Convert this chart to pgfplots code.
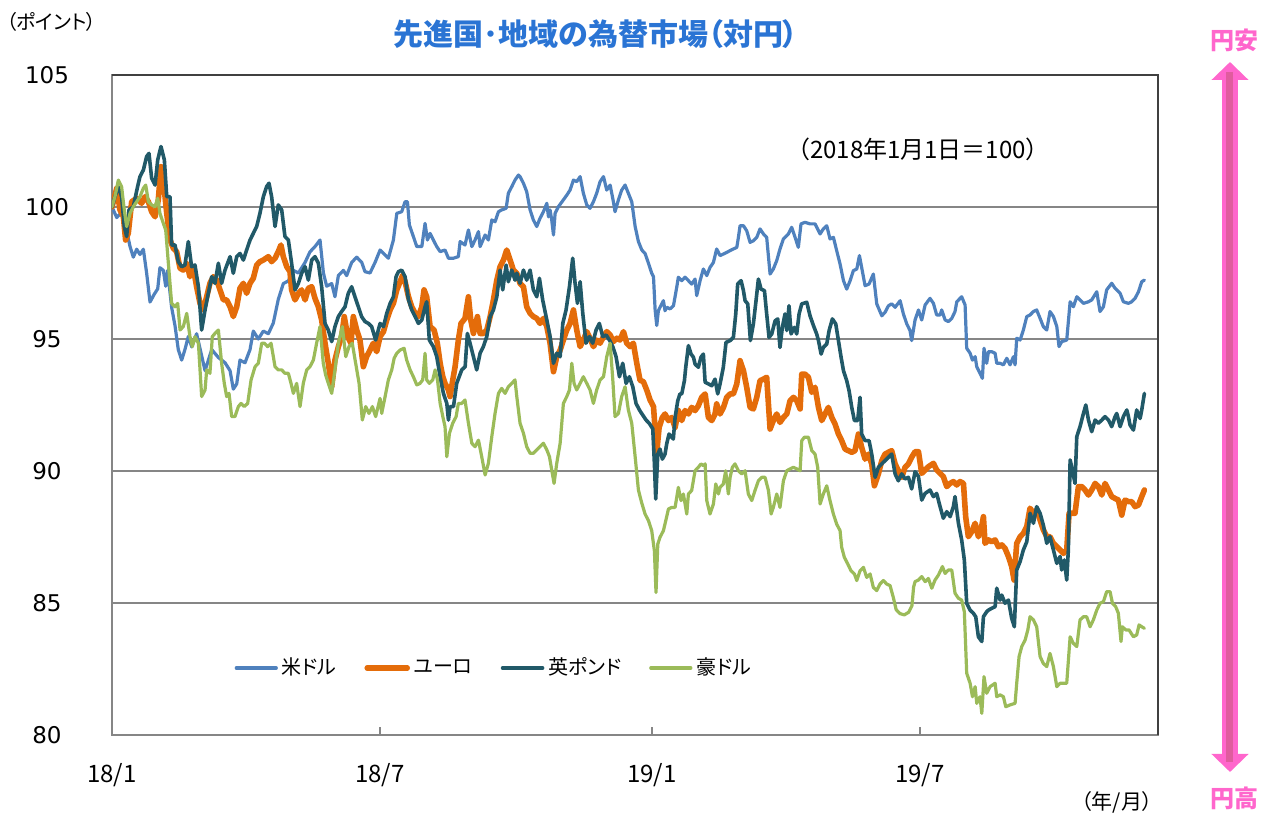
\documentclass[border=0pt]{standalone}
\usepackage{fontspec}
\setmainfont{Noto Sans CJK JP}[RawFeature={+palt}]
\newfontfamily\dejavu{DejaVu Sans}
\usepackage{pgfplots}
\pgfplotsset{compat=1.18}
\usetikzlibrary{arrows.meta}
\definecolor{usd}{RGB}{79,129,189}
\definecolor{eur}{RGB}{228,108,10}
\definecolor{gbp}{RGB}{33,89,104}
\definecolor{aud}{RGB}{155,187,89}
\definecolor{gridc}{RGB}{134,134,134}
\definecolor{framec}{RGB}{64,64,64}
\definecolor{titleblue}{RGB}{42,116,212}
\definecolor{pinkc}{RGB}{255,102,204}
\definecolor{pinkd}{RGB}{224,92,158}
\begin{document}
\begin{tikzpicture}
\begin{scope}[x=0.5pt,y=-0.5pt,shift={(-56pt,367.5pt)}]
\useasboundingbox (0,0) rectangle (1269,813);
\end{scope}
\begin{axis}[
  at={(0pt,0pt)}, anchor=south west, name=ax,
  scale only axis, width=523pt, height=330pt,
  xmin=0, xmax=707, ymin=80, ymax=105,
  xtick={0,181,365,546}, xticklabels={18/1,18/7,19/1,19/7},
  ytick={80,85,90,95,100,105},
  ymajorgrids, grid style={draw=gridc, line width=1pt},
  axis line style={draw=gridc, line width=1pt},
  tick pos=left, xtick align=inside, major tick length=4pt,
  xtick style={draw=gridc, line width=1pt},
  ytick style={draw=none},
  xticklabel style={anchor=center, yshift=-20pt, font=\fontsize{12}{14}\selectfont, text=black},
  yticklabel style={anchor=center, xshift=-32.5pt, font=\dejavu\fontsize{11.5}{13}\selectfont, text=black},
  /pgf/number format/assume math mode=true,
  legend columns=4,
  legend style={at={(0.366,0.1015)}, anchor=center, draw=none, fill=none,
    font=\fontsize{10}{12}\selectfont,
    /tikz/every even column/.append style={column sep=12pt}},
  legend image code/.code={\draw[#1] (0pt,0pt) -- (20pt,0pt);},
  every axis plot/.append style={line join=round, line cap=round},
]
\addplot[usd, line width=1.6pt] coordinates {
(0,100.0) (3.2,99.6) (6.5,99.8) (9.9,99.1) (12.2,98.5) (14.4,98.1) (16.7,98.4) (18.9,98.2) (21.2,98.4) (23.4,97.5) (25.7,96.4) (28.6,96.7) (30.9,96.9) (32.4,97.7) (34.7,97.6) (36.3,97.0) (37.6,97.6) (40.3,96.2) (42.6,95.5) (44.8,94.6) (47.1,94.2) (49.3,94.6) (51.6,95.1) (53.9,94.7) (57.2,95.2) (62.9,93.8) (67.4,94.6) (71.9,94.3) (76.4,94.1) (79.8,93.8) (82.0,93.1) (84.3,93.3) (86.5,94.2) (89.9,94.1) (93.3,94.6) (95.5,95.3) (98.9,95.0) (102.3,95.3) (105.7,95.2) (109.0,95.6) (112.4,96.5) (115.8,97.1) (119.2,97.2) (122.6,97.6) (126.0,97.5) (130.5,97.9) (133.8,98.3) (137.2,98.5) (140.6,98.75) (142.9,97.5) (145.1,97.0) (148.5,97.1) (150.7,96.6) (153.0,97.4) (156.4,97.6) (158.6,97.4) (162.0,97.9) (165.4,98.1) (168.8,97.9) (171.0,97.55) (174.4,97.5) (177.8,97.9) (181.2,98.37) (183.5,98.24) (186.8,98.06) (190.2,98.75) (192.5,99.76) (195.8,99.82) (198.1,100.2) (199.7,100.2) (201.0,99.32) (203.7,98.88) (206.0,98.5) (209.4,98.5) (211.6,99.38) (213.2,98.75) (215.0,99.0) (217.2,98.75) (219.5,98.5) (221.8,98.31) (225.1,98.37) (227.4,98.06) (230.8,98.06) (234.1,98.12) (235.3,98.69) (238.6,98.56) (240.9,99.13) (243.2,98.5) (245.4,98.75) (247.7,99.07) (248.8,98.5) (252.2,98.94) (254.4,98.75) (256.7,99.51) (258.9,99.44) (261.2,99.82) (263.4,99.89) (266.4,99.95) (267.9,100.52) (270.2,100.77) (272.4,101.02) (274.7,101.21) (275.8,101.15) (278.1,100.9) (280.3,100.58) (282.6,99.89) (284.8,99.51) (287.1,99.26) (289.3,99.57) (291.6,99.82) (293.9,100.14) (295.0,99.63) (296.1,99.89) (297.2,99.51) (298.4,98.94) (299.5,99.76) (301.7,100.01) (305.1,100.27) (307.4,100.45) (309.6,100.64) (311.9,101.02) (314.1,100.96) (316.4,101.15) (318.6,100.52) (320.9,100.08) (323.1,99.95) (325.4,100.2) (327.6,100.52) (329.9,100.96) (332.2,101.15) (334.4,100.64) (336.7,100.83) (338.9,100.2) (340.0,99.82) (342.3,100.27) (344.5,100.64) (346.8,100.83) (349.0,100.52) (351.3,100.2) (353.6,99.26) (355.8,98.69) (358.1,98.37) (360.3,98.24) (362.6,97.87) (364.8,97.49) (366.0,97.36) (367.1,96.1) (368.2,95.51) (369.3,96.07) (370.4,96.20) (372.7,96.45) (373.8,96.07) (375.0,96.20) (377.2,96.14) (379.5,96.26) (381.7,96.96) (382.8,97.34) (385.1,97.21) (387.3,97.34) (389.6,97.21) (391.8,97.08) (394.1,97.27) (395.2,96.64) (397.5,97.21) (399.7,97.65) (402.0,97.40) (404.2,97.71) (406.5,97.90) (408.7,98.41) (411.0,98.16) (413.3,98.22) (415.5,98.28) (417.8,98.35) (420.0,98.41) (422.3,98.47) (423.4,98.85) (424.5,99.29) (426.8,99.29) (429.0,99.10) (431.3,98.66) (433.5,98.72) (435.8,98.85) (438.0,99.17) (440.3,98.98) (442.5,98.85) (444.8,97.46) (447.0,97.65) (449.3,97.97) (451.5,98.41) (453.8,98.79) (457.2,98.98) (459.4,99.23) (461.7,98.85) (463.9,98.47) (465.7,99.36) (468.4,99.42) (471.8,99.36) (475.2,99.36) (478.6,98.98) (480.8,99.17) (483.1,99.29) (485.3,98.79) (487.6,98.85) (489.8,98.35) (492.1,97.84) (494.4,97.21) (496.6,96.89) (498.9,97.21) (501.1,97.59) (503.4,97.65) (505.2,98.16) (506.7,97.71) (509.0,97.02) (511.7,97.08) (514.6,97.46) (516.9,96.33) (520.3,95.88) (522.5,96.01) (524.8,96.26) (527.0,96.33) (529.3,96.20) (532.7,96.45) (534.9,95.95) (537.2,95.57) (539.4,95.32) (540.5,94.94) (542.8,95.72) (545.1,96.10) (547.3,95.72) (549.6,96.29) (552.9,96.54) (555.2,96.35) (557.4,95.91) (559.7,95.91) (560.8,96.10) (563.1,95.72) (565.3,95.66) (567.6,95.78) (569.8,96.04) (571.0,96.41) (574.3,96.60) (576.6,96.29) (577.7,94.65) (580.0,94.46) (581.6,94.20) (583.4,94.33) (584.5,93.95) (586.7,93.70) (588.3,93.51) (589.4,94.65) (591.2,94.08) (592.4,94.52) (594.6,94.52) (596.9,94.46) (598.0,94.08) (600.3,94.08) (602.5,94.02) (604.8,94.27) (607.0,94.02) (609.3,94.33) (610.4,94.02) (611.5,95.03) (613.8,94.96) (616.0,95.34) (618.3,95.85) (620.5,95.91) (622.8,96.04) (625.0,96.10) (627.3,95.78) (629.5,95.47) (631.8,95.34) (634.0,96.04) (636.3,95.85) (638.6,95.47) (640.1,94.71) (641.9,94.90) (645.3,94.96) (647.6,96.41) (649.8,96.22) (652.1,96.60) (654.3,96.48) (656.6,96.35) (660.0,96.41) (662.2,96.48) (665.6,96.79) (667.8,96.04) (670.1,96.22) (672.3,96.86) (675.7,97.11) (678.0,96.92) (681.4,96.73) (683.6,96.41) (687.0,96.35) (689.2,96.41) (691.5,96.54) (693.8,96.79) (696.0,97.17) (697.8,97.23)
};
\addlegendentry{米ドル}
\addplot[eur, line width=2.8pt] coordinates {
(0,100) (3.2,100.71) (5.4,99.89) (7.7,99.63) (9.2,98.75) (11.0,99.0) (13.3,100.2) (16.7,100.33) (20.0,100.14) (22.3,100.39) (24.6,100.2) (26.8,99.82) (29.1,99.63) (31.3,100.27) (33.1,101.53) (34.7,101.02) (37.0,99.76) (39.2,98.75) (41.5,98.43) (43.7,98.31) (46.0,97.68) (48.2,97.61) (50.5,97.87) (52.7,97.36) (55.0,97.68) (57.2,96.98) (59.5,96.35) (61.7,96.1) (64.0,96.6) (66.2,97.11) (68.5,97.36) (70.8,97.23) (73.0,96.86) (75.3,96.48) (77.5,96.48) (79.8,96.22) (82.0,95.85) (84.3,96.22) (86.5,96.92) (88.8,97.11) (91.0,96.73) (93.3,97.11) (95.5,97.3) (97.8,97.8) (100.0,97.93) (102.3,97.99) (105.7,98.12) (107.9,97.93) (110.2,98.06) (112.4,98.31) (114.2,98.56) (115.8,98.12) (118.1,97.74) (120.3,97.55) (121.4,96.86) (123.7,96.48) (126.0,96.73) (128.2,96.86) (130.5,96.48) (132.7,96.92) (135.0,96.98) (137.2,96.54) (139.5,96.22) (141.7,95.72) (144.0,94.84) (146.2,94.08) (148.5,93.19) (150.7,94.2) (153.0,94.71) (155.2,95.09) (157.0,95.85) (159.3,95.09) (161.5,94.84) (163.1,95.85) (165.4,95.34) (167.6,94.96) (169.9,93.95) (172.1,94.33) (174.4,94.58) (176.6,94.84) (178.9,94.52) (181.2,95.09) (183.5,95.28) (185.7,95.72) (188.0,96.1) (190.2,96.35) (192.5,96.86) (194.7,97.17) (196.5,97.42) (198.1,97.17) (200.4,96.6) (202.6,96.22) (204.9,95.97) (207.1,95.85) (209.4,96.22) (210.9,96.86) (212.7,96.6) (215.0,95.47) (217.7,95.34) (219.9,94.84) (221.8,94.08) (223.6,93.57) (225.1,93.32) (227.4,93.07) (228.5,92.82) (230.3,93.44) (231.9,93.95) (234.1,94.96) (235.9,95.59) (238.6,95.78) (240.9,96.6) (242.5,95.72) (244.3,95.21) (247.0,95.85) (248.8,95.21) (251.0,95.21) (253.3,95.34) (255.6,95.85) (257.8,96.48) (260.1,97.23) (262.3,97.74) (264.6,97.99) (266.8,98.37) (269.1,97.99) (271.3,97.61) (273.6,97.49) (275.8,97.1) (278.1,96.98) (280.3,96.22) (282.6,95.97) (284.8,95.85) (287.1,95.78) (289.3,95.59) (291.6,95.78) (293.9,95.47) (296.1,94.84) (298.4,93.76) (300.6,94.33) (302.9,94.58) (305.1,94.96) (307.4,95.34) (309.6,95.59) (311.9,96.1) (314.1,95.34) (316.4,94.71) (318.6,94.96) (320.9,95.28) (323.1,95.03) (325.4,94.71) (327.6,94.96) (329.9,94.84) (332.2,95.09) (334.4,95.28) (336.7,95.15) (338.9,94.9) (341.2,95.03) (343.4,94.96) (345.7,95.28) (347.9,94.84) (350.2,94.71) (352.4,94.84) (354.7,94.08) (356.9,93.44) (359.2,93.38) (361.4,93.07) (363.7,92.69) (366.0,92.44) (368.2,90.7) (369.8,91.65) (372.0,92.03) (373.8,92.16) (376.1,91.91) (378.3,92.03) (380.6,91.65) (382.8,92.29) (385.1,91.91) (387.3,92.29) (389.6,92.16) (391.8,92.41) (394.1,92.29) (396.3,92.47) (398.6,92.79) (400.9,92.92) (403.1,92.03) (405.4,91.91) (407.6,92.16) (408.7,92.54) (411.0,92.16) (413.3,92.41) (415.5,92.79) (417.8,92.92) (420.0,92.92) (422.3,93.3) (424.5,94.18) (426.8,93.8) (429.0,93.17) (431.3,92.41) (433.5,92.35) (435.8,92.79) (438.0,93.42) (440.3,93.48) (442.5,93.55) (444.8,91.59) (447.0,91.91) (449.3,92.16) (451.5,91.84) (453.8,92.03) (456.1,92.16) (458.3,92.66) (460.6,92.79) (462.8,92.66) (465.1,92.35) (466.2,93.67) (468.4,93.67) (470.7,93.55) (473.0,92.98) (475.2,93.17) (477.5,92.41) (479.7,91.91) (482.0,92.16) (484.2,92.41) (486.5,92.03) (488.7,91.78) (491.0,91.4) (493.2,91.15) (495.5,90.83) (497.7,90.77) (500.0,90.71) (502.2,90.77) (504.5,91.4) (506.7,90.9) (509.0,90.45) (511.3,90.64) (513.5,90.27) (515.3,89.44) (518.0,89.89) (520.3,90.39) (522.5,90.64) (524.8,90.71) (527.0,90.77) (529.3,90.27) (531.5,90.01) (533.8,89.76) (536.0,90.14) (538.3,90.27) (540.5,90.52) (542.8,90.73) (545.1,90.73) (547.3,89.91) (549.6,90.04) (551.8,90.16) (555.2,90.29) (557.4,90.04) (559.7,89.91) (561.9,89.79) (564.2,89.41) (566.5,89.53) (568.7,89.6) (571.0,89.47) (573.2,89.6) (575.5,89.53) (577.0,88.27) (578.8,87.51) (581.1,87.7) (583.4,88.02) (585.6,87.51) (587.4,87.77) (589.0,88.27) (590.1,87.26) (592.4,87.39) (594.6,87.32) (596.9,87.39) (599.1,87.13) (601.4,87.2) (603.6,87.07) (605.9,86.76) (608.1,86.38) (609.7,85.87) (611.5,87.26) (613.8,87.51) (616.0,87.64) (618.3,87.89) (620.5,88.59) (622.8,88.4) (625.0,88.52) (627.3,88.14) (629.5,87.77) (631.8,87.51) (634.0,87.51) (636.3,87.26) (638.6,87.13) (640.8,87.01) (643.1,86.88) (645.3,87.01) (646.9,88.4) (648.7,88.4) (650.9,88.4) (653.2,89.41) (655.5,89.41) (657.7,89.28) (660.0,89.09) (662.2,89.28) (664.5,89.53) (666.7,89.41) (669.0,89.09) (671.2,89.53) (673.5,89.28) (675.7,89.03) (678.0,88.96) (680.2,88.9) (682.5,88.33) (684.7,88.9) (687.0,88.84) (689.2,88.84) (691.5,88.65) (693.8,88.71) (696.0,89.03) (697.8,89.28)
};
\addlegendentry{ユーロ}
\addplot[gbp, line width=1.8pt] coordinates {
(0,100) (2.0,100.39) (4.3,100.77) (6.5,100.39) (8.3,99.26) (9.9,98.88) (11.5,99.89) (14.4,100.01) (17.3,100.77) (18.9,101.15) (21.2,101.4) (23.4,101.91) (25.0,102.03) (26.8,101.09) (29.1,100.83) (30.9,101.78) (33.1,102.29) (35.4,101.78) (37.0,100.39) (39.2,100.39) (40.3,98.56) (42.6,98.56) (44.8,97.93) (47.1,97.74) (49.3,97.8) (51.6,98.69) (53.8,97.74) (56.1,97.8) (58.4,96.98) (60.6,95.34) (62.9,96.1) (65.1,96.73) (67.4,97.36) (69.6,97.11) (71.9,97.87) (74.1,97.11) (76.4,97.61) (79.8,98.12) (82.0,97.49) (84.3,98.12) (86.5,98.24) (88.8,97.99) (91.0,98.37) (93.3,98.75) (95.5,99.0) (97.8,99.26) (100.0,99.76) (102.3,100.39) (104.5,100.77) (106.1,100.9) (107.9,100.39) (110.2,99.26) (112.4,100.08) (114.7,99.89) (116.9,98.88) (119.2,98.75) (121.4,97.87) (123.7,96.86) (126.0,97.11) (128.2,97.49) (130.5,97.74) (132.7,97.23) (135.0,97.99) (137.2,98.12) (139.5,97.87) (141.7,96.98) (144.0,95.59) (146.2,95.34) (148.5,94.9) (150.7,95.47) (153.0,95.85) (155.2,96.04) (157.5,96.22) (159.7,96.73) (162.0,96.98) (164.2,96.6) (166.5,96.22) (168.7,95.85) (171.0,95.66) (173.3,95.59) (175.5,95.47) (178.2,94.96) (181.2,95.59) (183.5,95.47) (185.7,95.97) (188.0,96.35) (190.2,96.6) (192.0,97.36) (193.6,97.55) (195.8,97.61) (198.1,97.36) (200.4,96.48) (202.6,96.1) (204.9,95.85) (207.1,95.59) (209.4,95.72) (211.6,96.22) (212.7,96.41) (214.5,94.96) (217.2,94.71) (219.5,94.33) (221.8,93.57) (224.0,92.94) (226.3,92.56) (227.4,91.93) (228.5,92.44) (230.8,92.44) (233.0,93.32) (236.4,93.83) (238.7,93.95) (240.2,95.21) (242.0,94.84) (244.3,94.33) (246.5,93.83) (248.8,94.46) (251.0,94.71) (253.3,95.09) (255.6,95.85) (257.8,96.1) (260.1,96.6) (262.3,97.61) (264.1,96.86) (266.4,97.8) (267.9,97.17) (270.2,97.61) (272.4,97.23) (273.6,97.49) (275.8,97.11) (278.1,97.61) (280.3,97.23) (282.6,97.61) (284.8,96.86) (287.1,96.6) (288.9,97.3) (291.1,96.48) (293.9,95.72) (296.1,95.09) (298.4,94.08) (300.6,94.46) (302.9,94.33) (304.7,95.59) (306.9,96.1) (309.2,96.98) (311.4,98.06) (313.0,97.11) (314.6,96.35) (316.4,97.17) (318.2,95.97) (320.4,94.84) (322.7,95.09) (324.9,94.84) (327.2,95.34) (329.4,95.59) (331.7,95.09) (334.0,95.15) (336.2,94.96) (338.5,94.71) (340.7,94.33) (343.0,93.57) (345.2,94.08) (347.5,93.32) (349.7,93.57) (352.0,93.19) (354.2,92.56) (356.5,92.31) (358.7,92.12) (361.0,91.93) (363.2,91.8) (365.5,91.6) (366.6,90.3) (367.5,88.94) (368.9,90.64) (370.4,90.83) (372.0,90.45) (373.8,90.64) (374.9,91.02) (376.5,91.4) (378.3,91.28) (379.4,91.21) (380.6,92.03) (382.4,92.66) (383.9,92.92) (385.1,92.92) (386.9,93.42) (387.8,93.93) (389.6,94.75) (391.4,94.43) (393.0,94.31) (394.1,94.05) (396.3,93.93) (398.1,94.31) (399.7,94.43) (400.9,93.36) (403.1,93.3) (405.4,93.23) (407.6,93.48) (409.4,92.92) (411.0,93.3) (413.2,93.93) (415.0,94.87) (417.8,94.94) (420.0,95.06) (421.6,95.95) (422.9,97.08) (425.2,97.21) (426.8,96.83) (427.9,96.45) (429.7,96.33) (431.5,94.94) (433.5,95.57) (435.3,96.45) (436.9,97.27) (438.7,96.89) (441.0,96.83) (442.5,95.95) (444.1,95.06) (445.9,95.19) (448.2,95.69) (450.0,95.76) (451.5,94.68) (453.1,95.44) (454.9,95.95) (456.1,95.32) (457.6,96.26) (459.0,95.19) (461.2,95.44) (462.8,95.19) (464.4,95.95) (466.2,96.33) (469.6,96.39) (471.8,95.88) (474.1,95.51) (476.3,95.19) (477.5,94.94) (479.3,94.43) (480.8,94.68) (483.1,94.81) (484.7,95.32) (486.9,95.76) (489.2,95.57) (491.0,94.94) (492.8,94.31) (494.4,93.8) (496.6,93.42) (498.2,93.04) (500.0,92.41) (501.8,91.91) (504.0,91.91) (505.6,92.79) (506.7,91.4) (509.0,91.15) (511.7,91.15) (513.5,90.64) (515.8,89.76) (518.0,90.14) (520.3,90.27) (522.5,90.39) (524.8,90.52) (527.0,90.64) (529.3,89.89) (531.5,89.63) (533.8,89.89) (536.0,89.7) (538.3,89.76) (540.5,89.32) (542.8,89.97) (545.1,89.79) (547.3,88.9) (549.6,89.15) (552.9,89.28) (555.2,89.03) (557.4,89.15) (559.7,88.65) (561.9,88.21) (564.2,88.46) (566.5,88.27) (568.7,88.65) (569.8,89.03) (572.1,88.02) (574.3,87.39) (576.1,86.63) (577.7,84.99) (580.0,84.73) (582.2,84.61) (583.8,84.48) (585.6,83.72) (587.9,83.54) (589.0,84.48) (591.2,84.67) (592.4,84.73) (594.6,84.8) (596.9,84.86) (598.0,85.56) (600.3,85.11) (601.4,85.3) (603.6,84.99) (605.9,85.11) (608.1,84.42) (609.9,84.1) (611.5,86.25) (613.8,86.57) (616.0,87.01) (618.3,87.32) (620.5,88.4) (622.8,88.02) (625.0,88.65) (627.3,88.4) (629.5,87.95) (631.8,87.26) (634.0,87.51) (636.3,87.01) (638.6,86.5) (640.8,86.76) (641.9,86.25) (643.7,86.63) (645.3,85.87) (646.4,87.01) (647.6,90.42) (649.1,90.04) (650.9,89.53) (652.1,91.3) (654.3,91.68) (656.6,92.18) (658.2,92.5) (660.0,91.93) (662.2,91.49) (664.5,91.93) (666.7,91.81) (669.0,91.93) (671.2,92.06) (673.5,91.93) (675.7,91.68) (678.0,92.06) (679.1,92.18) (681.4,91.68) (683.6,92.06) (685.9,92.31) (687.0,92.06) (688.1,91.74) (690.4,91.55) (692.6,92.31) (694.9,91.99) (696.0,92.31) (697.8,92.94)
};
\addlegendentry{英ポンド}
\addplot[aud, line width=1.6pt] coordinates {
(0,100) (2.0,100.39) (4.3,101.02) (6.5,100.77) (8.3,99.89) (9.9,99.26) (12.2,99.76) (14.4,100.01) (16.7,100.2) (18.9,100.39) (21.2,100.71) (22.8,100.83) (24.6,100.2) (26.8,100.08) (29.1,100.01) (30.9,100.33) (32.4,99.76) (34.7,99.38) (36.3,99.13) (38.1,97.87) (40.3,96.35) (42.6,96.22) (44.4,96.35) (46.0,95.34) (48.2,95.47) (50.5,95.97) (52.7,95.09) (54.3,94.71) (56.1,95.09) (58.4,94.84) (60.6,92.82) (62.9,93.07) (64.0,93.83) (66.2,93.7) (67.8,95.09) (69.6,95.21) (71.9,95.34) (74.1,94.08) (75.9,93.32) (77.5,92.82) (79.1,92.94) (80.9,92.06) (83.1,92.06) (85.4,92.44) (87.2,92.56) (89.4,92.44) (91.7,92.56) (94.0,93.45) (96.7,93.95) (98.9,94.08) (101.2,94.84) (103.0,94.84) (105.2,94.71) (107.5,94.84) (110.2,93.95) (112.4,93.83) (114.7,93.83) (116.9,93.7) (119.2,93.7) (121.0,93.32) (122.6,92.94) (124.8,93.32) (127.1,92.44) (129.3,93.32) (131.6,93.83) (133.8,93.95) (136.1,94.2) (138.3,94.84) (140.6,95.47) (142.8,94.08) (144.4,93.64) (146.2,93.32) (148.5,92.94) (150.7,93.83) (153.0,94.84) (155.7,95.47) (158.0,94.33) (160.2,94.71) (162.4,94.84) (164.7,94.08) (167.0,93.32) (169.2,91.93) (171.5,92.44) (173.7,92.18) (176.0,92.44) (178.2,92.06) (181.2,92.75) (182.3,92.18) (184.6,92.82) (186.8,93.45) (189.1,93.83) (190.7,94.27) (192.5,94.46) (194.7,94.58) (197.4,94.65) (199.2,94.2) (201.5,93.83) (203.7,93.57) (206.0,93.26) (208.2,93.32) (210.0,93.45) (211.6,94.46) (212.7,93.45) (214.5,93.32) (216.8,93.45) (218.4,93.83) (220.0,93.45) (221.8,92.56) (223.6,92.06) (225.1,91.68) (226.3,90.54) (228.1,91.43) (230.3,91.81) (232.6,92.06) (234.1,92.56) (236.4,92.56) (238.6,92.69) (240.9,91.81) (243.2,91.05) (245.4,90.92) (247.7,91.17) (249.9,90.54) (252.2,89.85) (254.4,90.29) (256.7,91.3) (258.9,92.18) (261.2,92.94) (263.4,93.13) (265.7,92.94) (267.9,93.19) (270.2,93.32) (272.4,93.45) (273.6,92.82) (275.8,91.81) (278.1,91.43) (280.3,90.92) (282.6,90.67) (284.8,90.67) (287.1,90.8) (289.3,90.92) (291.6,91.05) (293.9,90.8) (295.7,90.54) (297.2,90.04) (298.8,89.53) (300.6,90.29) (302.9,91.05) (305.1,92.56) (307.4,92.82) (309.2,93.07) (310.8,94.08) (312.3,93.32) (314.1,93.07) (316.4,93.32) (318.6,93.57) (320.9,93.32) (323.1,93.07) (325.4,92.56) (327.6,93.07) (329.9,93.45) (332.2,93.57) (334.4,94.33) (336.7,94.84) (338.5,93.45) (340.0,92.06) (342.3,92.18) (344.5,92.82) (346.8,93.19) (349.0,92.31) (351.3,91.81) (353.6,90.54) (355.8,89.28) (358.0,88.8) (360.3,88.37) (362.6,88.12) (364.8,87.74) (366.6,86.98) (367.7,85.4) (368.9,87.23) (370.4,87.49) (372.7,87.74) (374.3,88.12) (376.1,88.56) (378.3,88.62) (380.6,88.62) (381.7,89.0) (382.8,89.38) (384.6,88.88) (386.2,89.13) (388.5,88.37) (389.6,89.13) (391.8,89.26) (394.1,90.01) (396.3,90.14) (398.1,90.27) (399.7,90.2) (400.9,90.27) (402.0,88.88) (404.2,88.37) (406.5,88.75) (408.1,89.51) (409.9,89.13) (411.0,89.38) (413.2,89.51) (414.8,90.01) (416.6,89.13) (417.8,89.76) (419.3,90.14) (421.1,90.27) (423.4,90.01) (425.6,89.89) (427.9,90.01) (430.1,89.13) (432.4,88.88) (434.6,89.26) (436.9,89.63) (439.2,89.76) (441.4,89.76) (443.7,89.26) (445.5,88.37) (447.0,88.62) (449.3,89.13) (451.5,88.62) (453.8,89.63) (456.1,90.01) (458.3,90.08) (460.6,90.14) (462.8,90.08) (465.1,90.01) (466.2,91.15) (468.0,91.28) (470.7,91.28) (473.0,90.77) (475.2,90.64) (477.0,90.14) (478.6,88.75) (480.8,89.13) (483.1,89.44) (485.3,88.88) (487.6,88.37) (489.8,87.99) (492.1,87.74) (493.2,87.11) (495.0,86.73) (497.3,86.48) (499.5,86.22) (501.8,86.1) (503.4,85.85) (505.6,86.22) (507.9,86.35) (510.1,85.97) (512.4,86.1) (514.6,85.59) (516.9,85.47) (519.1,85.72) (521.4,85.85) (523.6,85.72) (525.9,85.66) (528.1,85.21) (530.0,84.75) (532.5,84.6) (535.5,84.55) (538.5,84.65) (540.7,84.9) (541.8,85.6) (542.8,85.81) (545.1,85.87) (547.3,86.0) (549.6,85.81) (551.8,85.93) (554.1,85.56) (556.3,85.87) (558.6,86.06) (561.3,86.38) (563.1,86.12) (565.3,86.25) (567.6,86.25) (569.8,85.37) (572.1,85.18) (574.3,85.11) (576.1,84.67) (577.7,82.34) (580.0,81.96) (581.6,81.45) (583.4,81.83) (584.5,81.2) (586.7,81.45) (587.9,80.82) (589.4,82.21) (591.2,81.58) (593.5,81.83) (596.9,81.96) (598.0,81.45) (600.3,81.52) (602.5,81.45) (604.1,81.07) (607.0,81.14) (610.4,81.2) (611.5,81.96) (613.1,82.97) (614.9,83.35) (617.2,83.6) (619.0,83.98) (620.5,84.48) (622.8,84.36) (625.0,84.1) (627.3,82.97) (629.5,82.71) (631.8,82.59) (634.0,83.09) (636.3,82.59) (638.6,81.83) (640.8,81.96) (643.1,81.96) (645.3,81.96) (647.6,83.72) (649.8,83.47) (652.1,83.35) (654.3,84.36) (656.6,84.48) (658.8,84.48) (661.1,84.1) (663.3,84.36) (665.6,84.73) (667.8,84.99) (670.1,85.05) (672.3,85.43) (674.6,85.43) (676.2,84.99) (678.4,84.86) (680.2,84.61) (682.0,83.54) (682.9,84.1) (685.2,83.98) (687.4,83.98) (690.4,83.72) (692.6,83.79) (694.2,84.17) (696.0,84.1) (697.8,84.04)
};
\addlegendentry{豪ドル}
\end{axis}
\draw[framec, line width=1pt] (ax.north west) -- (ax.north east) -- (ax.south east);
\begin{scope}[x=0.5pt,y=-0.5pt,shift={(-56pt,367.5pt)}]
\node[anchor=west, inner sep=0pt, font=\fontsize{10}{12}\selectfont] at (6,22) {（ポイント）};
\node[inner sep=0pt, font=\fontsize{15}{18}\selectfont\bfseries, text=titleblue] at (596,34) {先進国･地域の為替市場（対円）};
\node[inner sep=0pt, font=\fontsize{12}{14}\selectfont] at (918,149) {（2018年1月1日＝100）};
\node[inner sep=0pt, font=\fontsize{10.5}{12}\selectfont] at (1117,802) {（年/月）};
\node[inner sep=0pt, font=\fontsize{12}{14}\selectfont\bfseries, text=pinkc] at (1234,40) {円安};
\node[inner sep=0pt, font=\fontsize{12}{14}\selectfont\bfseries, text=pinkc] at (1234,798) {円高};
\draw[pinkc, line width=8pt, {Triangle[length=9pt,width=18pt]}-{Triangle[length=9pt,width=18pt]}] (1230,62) -- (1230,772);
\draw[pinkd, line width=3.5pt] (1229.5,72) -- (1229.5,762);
\end{scope}
\end{tikzpicture}
\end{document}
